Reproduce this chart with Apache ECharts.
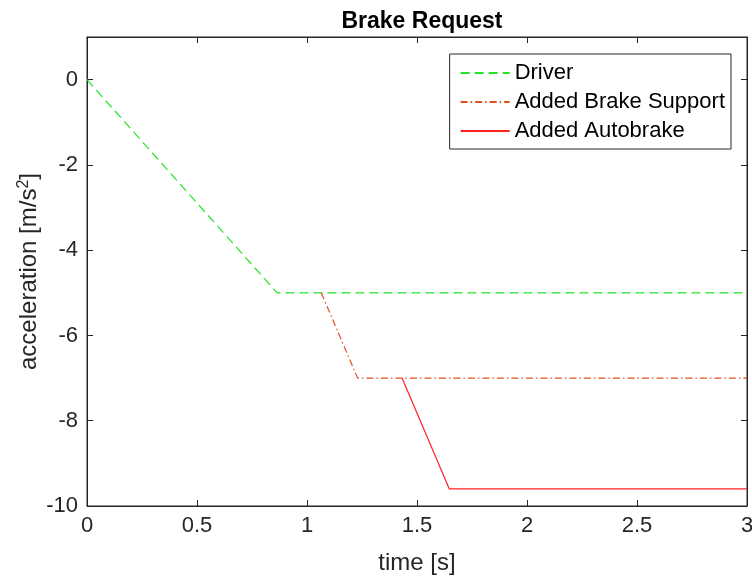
<!DOCTYPE html>
<html>
<head>
<meta charset="utf-8">
<script src="https://cdn.jsdelivr.net/npm/echarts@6/dist/echarts.min.js"></script>
<style>
  html, body { margin: 0; padding: 0; background: #fff; }
  #main { width: 752px; height: 581px; }
</style>
</head>
<body>
<div id="main"></div>
<script>
// time [s] and acceleration [m/s^2] for each series
var driverT = [0, 0.864, 3];
var driverA = [0, -5, -5];
var supportT = [1.065, 1.23, 3];
var supportA = [-5, -7, -7];
var autoT = [1.432, 1.647, 3];
var autoA = [-7, -9.6, -9.6];

var seriesNames = ['Driver', 'Added Brake Support', 'Added Autobrake'];

function pairs(t, a) {
    var out = [];
    for (var i = 0; i < t.length; i++) out.push([t[i], a[i]]);
    return out;
}

var font = 'Liberation Sans, Arial, sans-serif';
var axisColor = '#262626';

var myChart = echarts.init(document.getElementById('main'));
var option = {
    animation: false,
    title: {
        text: 'Brake Request',
        left: 417,
        top: 5,
        textAlign: 'center',
        textStyle: { fontFamily: font, fontSize: 23, fontWeight: 'bold', color: '#000' }
    },
    legend: {
        orient: 'vertical',
        right: 21,
        top: 54,
        padding: [8, 6, 7, 10],
        itemGap: 7,
        itemWidth: 49,
        itemHeight: 22,
        backgroundColor: '#fff',
        borderColor: axisColor,
        borderWidth: 1,
        itemStyle: { opacity: 0 },
        textStyle: { fontFamily: font, fontSize: 22, color: '#000' },
        data: seriesNames
    },
    grid: {
        left: 87, right: 5, top: 37, bottom: 75,
        outerBoundsMode: 'none',
        show: true, borderColor: axisColor, borderWidth: 1
    },
    xAxis: [{
        type: 'value',
        min: 0, max: 3, interval: 0.5,
        name: 'time [s]',
        nameLocation: 'middle',
        nameGap: 45,
        nameMoveOverlap: false,
        nameTextStyle: { fontFamily: font, fontSize: 24, color: axisColor },
        axisLine: { show: true, onZero: false, lineStyle: { color: axisColor } },
        axisTick: { show: true, inside: true, length: 6, lineStyle: { color: axisColor } },
        axisLabel: { fontFamily: font, fontSize: 22, color: axisColor, margin: 9 },
        splitLine: { show: false }
    }, {
        type: 'value', position: 'top',
        min: 0, max: 3, interval: 0.5,
        axisLine: { show: true, onZero: false, lineStyle: { color: axisColor } },
        axisTick: { show: true, inside: true, length: 6, lineStyle: { color: axisColor } },
        axisLabel: { show: false },
        splitLine: { show: false }
    }],
    yAxis: [{
        type: 'value',
        min: -10, max: 1, interval: 2,
        name: '{n|acceleration [m/s}{s|2}{n|]}',
        nameLocation: 'middle',
        nameGap: 45,
        nameMoveOverlap: false,
        nameRotate: 90,
        nameTextStyle: {
            rich: {
                n: { fontFamily: font, fontSize: 24, color: axisColor },
                s: { fontFamily: font, fontSize: 16, color: axisColor, verticalAlign: 'top', padding: [0, 0, 10, 0] }
            }
        },
        axisLine: { show: true, onZero: false, lineStyle: { color: axisColor } },
        axisTick: { show: true, inside: true, length: 6, lineStyle: { color: axisColor } },
        axisLabel: { fontFamily: font, fontSize: 22, color: axisColor, margin: 9, showMaxLabel: false },
        splitLine: { show: false }
    }, {
        type: 'value', position: 'right',
        min: -10, max: 1, interval: 2,
        axisLine: { show: true, onZero: false, lineStyle: { color: axisColor } },
        axisTick: { show: true, inside: true, length: 6, lineStyle: { color: axisColor } },
        axisLabel: { show: false },
        splitLine: { show: false }
    }],
    series: [{
        name: seriesNames[0],
        type: 'line',
        symbol: 'none',
        color: '#22e622',
        lineStyle: { width: 1.2, type: [9, 5] },
        data: pairs(driverT, driverA)
    }, {
        name: seriesNames[1],
        type: 'line',
        symbol: 'none',
        color: '#e0501e',
        lineStyle: { width: 1.2, type: [7, 3, 1.5, 3] },
        data: pairs(supportT, supportA)
    }, {
        name: seriesNames[2],
        type: 'line',
        symbol: 'none',
        color: '#ff2020',
        lineStyle: { width: 1.2 },
        data: pairs(autoT, autoA)
    }]
};
myChart.setOption(option);
</script>
</body>
</html>
